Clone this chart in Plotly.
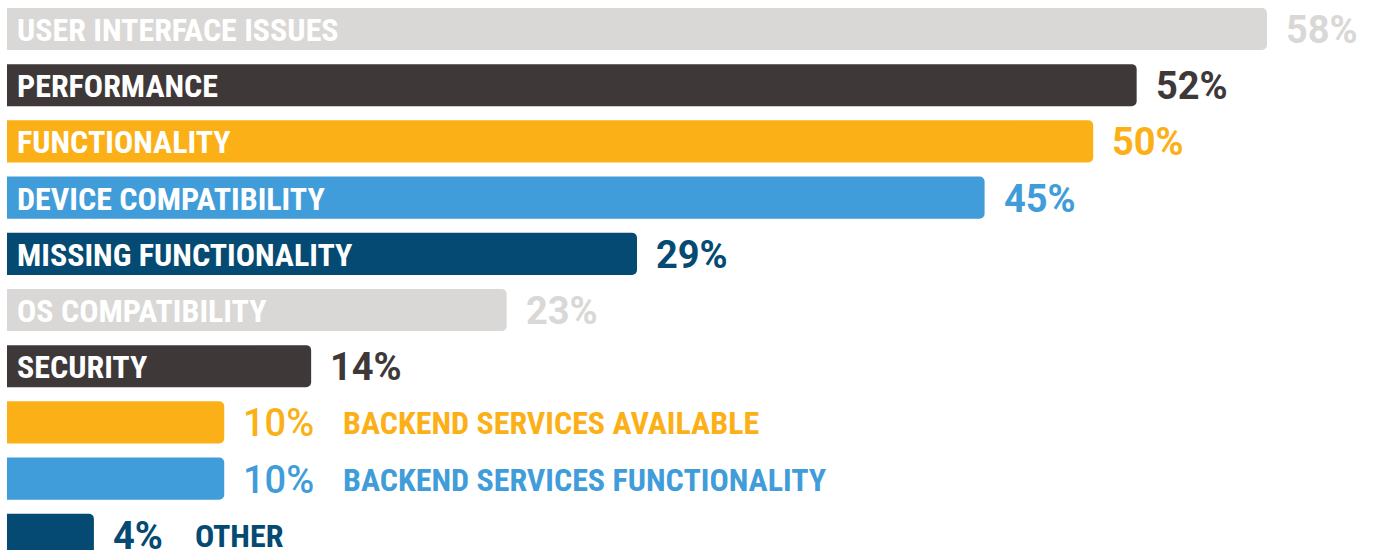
import plotly.graph_objects as go

categories = [
    "USER INTERFACE ISSUES",
    "PERFORMANCE",
    "FUNCTIONALITY",
    "DEVICE COMPATIBILITY",
    "MISSING FUNCTIONALITY",
    "OS COMPATIBILITY",
    "SECURITY",
    "BACKEND SERVICES AVAILABLE",
    "BACKEND SERVICES FUNCTIONALITY",
    "OTHER",
]
values = [58, 52, 50, 45, 29, 23, 14, 10, 10, 4]
colors = ["#d9d8d6", "#3e3839", "#fbb017", "#419dd9", "#044a72",
          "#d9d8d6", "#3e3839", "#fbb017", "#419dd9", "#044a72"]
# rows whose name sits inside the bar; the rest get it after the value
label_inside = [True] * 7 + [False] * 3

FONT = "Roboto Condensed, Roboto, sans-serif"
PX_PER_PCT = 1260 / 58


def narrow(s):
    return f'<span style="font-stretch:condensed">{s}</span>'


rows = list(range(len(categories)))

fig = go.Figure(go.Bar(
    x=values,
    y=rows,
    orientation="h",
    width=0.75,
    marker=dict(color=colors, line=dict(width=0)),
    hoverinfo="skip",
))

annotations = []
for i, (cat, val, col, inside) in enumerate(zip(categories, values, colors, label_inside)):
    vtxt = f"{val}%"
    annotations.append(dict(
        x=val, y=i, xref="x", yref="y", text=vtxt,
        showarrow=False, xanchor="left", yanchor="middle", xshift=17, yshift=-1,
        font=dict(family="Roboto, sans-serif", size=38, color=col,
                  weight=700 if (inside or val < 10) else 500),
    ))
    if inside:
        annotations.append(dict(
            x=0, y=i, xref="x", yref="y", text=narrow(cat),
            showarrow=False, xanchor="left", yanchor="middle", xshift=8, yshift=-1,
            font=dict(family=FONT, size=32, color="white", weight=700),
        ))
    else:
        # name follows the value text
        shift = 19 + 18 * (len(vtxt) - 1) + 34 + 28
        annotations.append(dict(
            x=val, y=i, xref="x", yref="y", text=narrow(cat),
            showarrow=False, xanchor="left", yanchor="middle", xshift=shift, yshift=-1,
            font=dict(family=FONT, size=32, color=col, weight=700),
        ))

fig.update_layout(
    width=1373,
    height=550,
    margin=dict(l=0, r=0, t=0, b=0),
    plot_bgcolor="white",
    paper_bgcolor="white",
    barcornerradius=5,
    showlegend=False,
    annotations=annotations,
)
fig.update_xaxes(range=[-7 / PX_PER_PCT, 1366 / PX_PER_PCT], visible=False, fixedrange=True)
fig.update_yaxes(range=[9.27, -0.516], visible=False, fixedrange=True)

fig.write_html("out.html", config={"displayModeBar": False},
               post_script="document.body.style.margin='0';document.body.style.overflow='hidden';")
